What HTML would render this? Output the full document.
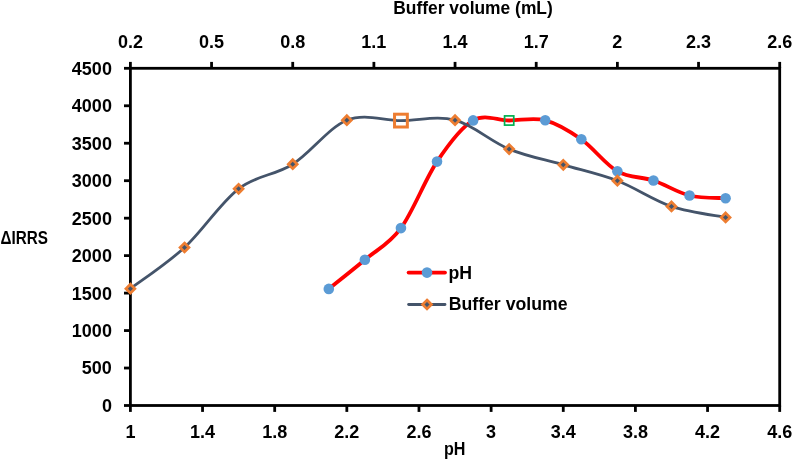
<!DOCTYPE html>
<html><head><meta charset="utf-8"><style>
html,body{margin:0;padding:0;background:#fff;}
svg{display:block;will-change:transform;}
text{font-family:'Liberation Sans',sans-serif;font-weight:bold;font-size:18px;fill:#000;}
</style></head><body>
<svg width="792" height="459" viewBox="0 0 792 459">
<rect width="792" height="459" fill="#fff"/>

<g stroke="#000" stroke-width="2.8" fill="none">
<rect x="130.4" y="68.3" width="649.30" height="337.20"/>
<line x1="124.00" y1="405.50" x2="130.4" y2="405.50"/>
<line x1="124.00" y1="368.03" x2="130.4" y2="368.03"/>
<line x1="124.00" y1="330.57" x2="130.4" y2="330.57"/>
<line x1="124.00" y1="293.10" x2="130.4" y2="293.10"/>
<line x1="124.00" y1="255.63" x2="130.4" y2="255.63"/>
<line x1="124.00" y1="218.17" x2="130.4" y2="218.17"/>
<line x1="124.00" y1="180.70" x2="130.4" y2="180.70"/>
<line x1="124.00" y1="143.23" x2="130.4" y2="143.23"/>
<line x1="124.00" y1="105.77" x2="130.4" y2="105.77"/>
<line x1="124.00" y1="68.30" x2="130.4" y2="68.30"/>
<line x1="130.40" y1="405.5" x2="130.40" y2="411.90"/>
<line x1="202.54" y1="405.5" x2="202.54" y2="411.90"/>
<line x1="274.69" y1="405.5" x2="274.69" y2="411.90"/>
<line x1="346.83" y1="405.5" x2="346.83" y2="411.90"/>
<line x1="418.98" y1="405.5" x2="418.98" y2="411.90"/>
<line x1="491.12" y1="405.5" x2="491.12" y2="411.90"/>
<line x1="563.27" y1="405.5" x2="563.27" y2="411.90"/>
<line x1="635.41" y1="405.5" x2="635.41" y2="411.90"/>
<line x1="707.56" y1="405.5" x2="707.56" y2="411.90"/>
<line x1="779.70" y1="405.5" x2="779.70" y2="411.90"/>
<line x1="130.40" y1="61.90" x2="130.40" y2="68.3"/>
<line x1="211.56" y1="61.90" x2="211.56" y2="68.3"/>
<line x1="292.73" y1="61.90" x2="292.73" y2="68.3"/>
<line x1="373.89" y1="61.90" x2="373.89" y2="68.3"/>
<line x1="455.05" y1="61.90" x2="455.05" y2="68.3"/>
<line x1="536.21" y1="61.90" x2="536.21" y2="68.3"/>
<line x1="617.38" y1="61.90" x2="617.38" y2="68.3"/>
<line x1="698.54" y1="61.90" x2="698.54" y2="68.3"/>
<line x1="779.70" y1="61.90" x2="779.70" y2="68.3"/>
</g>
<text x="111.9" y="411.90" text-anchor="end">0</text>
<text x="111.9" y="374.43" text-anchor="end">500</text>
<text x="111.9" y="336.97" text-anchor="end">1000</text>
<text x="111.9" y="299.50" text-anchor="end">1500</text>
<text x="111.9" y="262.03" text-anchor="end">2000</text>
<text x="111.9" y="224.57" text-anchor="end">2500</text>
<text x="111.9" y="187.10" text-anchor="end">3000</text>
<text x="111.9" y="149.63" text-anchor="end">3500</text>
<text x="111.9" y="112.17" text-anchor="end">4000</text>
<text x="111.9" y="74.70" text-anchor="end">4500</text>
<text x="130.40" y="437.7" text-anchor="middle">1</text>
<text x="202.54" y="437.7" text-anchor="middle">1.4</text>
<text x="274.69" y="437.7" text-anchor="middle">1.8</text>
<text x="346.83" y="437.7" text-anchor="middle">2.2</text>
<text x="418.98" y="437.7" text-anchor="middle">2.6</text>
<text x="491.12" y="437.7" text-anchor="middle">3</text>
<text x="563.27" y="437.7" text-anchor="middle">3.4</text>
<text x="635.41" y="437.7" text-anchor="middle">3.8</text>
<text x="707.56" y="437.7" text-anchor="middle">4.2</text>
<text x="779.70" y="437.7" text-anchor="middle">4.6</text>
<text x="130.40" y="47.7" text-anchor="middle">0.2</text>
<text x="211.56" y="47.7" text-anchor="middle">0.5</text>
<text x="292.73" y="47.7" text-anchor="middle">0.8</text>
<text x="373.89" y="47.7" text-anchor="middle">1.1</text>
<text x="455.05" y="47.7" text-anchor="middle">1.4</text>
<text x="536.21" y="47.7" text-anchor="middle">1.7</text>
<text x="617.38" y="47.7" text-anchor="middle">2</text>
<text x="698.54" y="47.7" text-anchor="middle">2.3</text>
<text x="779.70" y="47.7" text-anchor="middle">2.6</text>
<text x="393.3" y="13.6" textLength="159.5" lengthAdjust="spacingAndGlyphs">Buffer volume (mL)</text>
<text x="444" y="455" textLength="21.5" lengthAdjust="spacingAndGlyphs">pH</text>
<text x="0.5" y="244" textLength="47.5" lengthAdjust="spacingAndGlyphs">ΔIRRS</text>
<path d="M328.80,288.90 C334.81,284.05 352.85,269.93 364.87,259.80 C376.89,249.67 388.92,244.47 400.94,228.10 C412.97,211.73 424.99,179.55 437.01,161.60 C449.04,143.65 461.06,127.25 473.09,120.40 C485.11,113.55 497.13,120.52 509.16,120.50 C521.18,120.48 533.21,117.17 545.23,120.30 C557.25,123.43 569.28,130.80 581.30,139.30 C593.33,147.80 605.35,164.43 617.38,171.30 C629.40,178.17 641.42,176.47 653.45,180.50 C665.47,184.53 677.50,192.55 689.52,195.50 C701.54,198.45 719.58,197.75 725.59,198.20" fill="none" stroke="#FF0000" stroke-width="3.8" stroke-linecap="round" stroke-linejoin="round"/>
<circle cx="328.80" cy="288.90" r="5.3" fill="#5B9BD5"/>
<circle cx="364.87" cy="259.80" r="5.3" fill="#5B9BD5"/>
<circle cx="400.94" cy="228.10" r="5.3" fill="#5B9BD5"/>
<circle cx="437.01" cy="161.60" r="5.3" fill="#5B9BD5"/>
<circle cx="473.09" cy="120.40" r="5.3" fill="#5B9BD5"/>
<rect x="504.56" y="115.90" width="9.2" height="9.2" fill="none" stroke="#00B050" stroke-width="1.7"/>
<circle cx="545.23" cy="120.30" r="5.3" fill="#5B9BD5"/>
<circle cx="581.30" cy="139.30" r="5.3" fill="#5B9BD5"/>
<circle cx="617.38" cy="171.30" r="5.3" fill="#5B9BD5"/>
<circle cx="653.45" cy="180.50" r="5.3" fill="#5B9BD5"/>
<circle cx="689.52" cy="195.50" r="5.3" fill="#5B9BD5"/>
<circle cx="725.59" cy="198.20" r="5.3" fill="#5B9BD5"/>
<path d="M130.40,288.70 C139.42,281.83 166.47,264.15 184.51,247.50 C202.54,230.85 220.58,202.68 238.62,188.80 C256.65,174.92 274.69,175.63 292.73,164.20 C310.76,152.77 328.80,127.47 346.83,120.20 C364.87,112.93 382.91,120.60 400.94,120.60 C418.98,120.60 437.01,115.45 455.05,120.20 C473.09,124.95 491.12,141.67 509.16,149.10 C527.19,156.53 545.23,159.53 563.27,164.80 C581.30,170.07 599.34,173.77 617.38,180.70 C635.41,187.63 653.45,200.28 671.48,206.40 C689.52,212.52 716.57,215.57 725.59,217.40" fill="none" stroke="#44546A" stroke-width="2.8" stroke-linecap="round" stroke-linejoin="round"/>
<path d="M130.40,284.25 L134.85,288.70 L130.40,293.15 L125.95,288.70 Z" fill="#44546A" stroke="#ED7D31" stroke-width="2.7" stroke-linejoin="miter"/>
<path d="M184.51,243.05 L188.96,247.50 L184.51,251.95 L180.06,247.50 Z" fill="#44546A" stroke="#ED7D31" stroke-width="2.7" stroke-linejoin="miter"/>
<path d="M238.62,184.35 L243.07,188.80 L238.62,193.25 L234.17,188.80 Z" fill="#44546A" stroke="#ED7D31" stroke-width="2.7" stroke-linejoin="miter"/>
<path d="M292.73,159.75 L297.18,164.20 L292.73,168.65 L288.28,164.20 Z" fill="#44546A" stroke="#ED7D31" stroke-width="2.7" stroke-linejoin="miter"/>
<path d="M346.83,115.75 L351.28,120.20 L346.83,124.65 L342.38,120.20 Z" fill="#44546A" stroke="#ED7D31" stroke-width="2.7" stroke-linejoin="miter"/>
<rect x="394.54" y="114.20" width="12.8" height="12.8" fill="none" stroke="#ED7D31" stroke-width="3"/>
<path d="M455.05,115.75 L459.50,120.20 L455.05,124.65 L450.60,120.20 Z" fill="#44546A" stroke="#ED7D31" stroke-width="2.7" stroke-linejoin="miter"/>
<path d="M509.16,144.65 L513.61,149.10 L509.16,153.55 L504.71,149.10 Z" fill="#44546A" stroke="#ED7D31" stroke-width="2.7" stroke-linejoin="miter"/>
<path d="M563.27,160.35 L567.72,164.80 L563.27,169.25 L558.82,164.80 Z" fill="#44546A" stroke="#ED7D31" stroke-width="2.7" stroke-linejoin="miter"/>
<path d="M617.38,176.25 L621.83,180.70 L617.38,185.15 L612.93,180.70 Z" fill="#44546A" stroke="#ED7D31" stroke-width="2.7" stroke-linejoin="miter"/>
<path d="M671.48,201.95 L675.93,206.40 L671.48,210.85 L667.03,206.40 Z" fill="#44546A" stroke="#ED7D31" stroke-width="2.7" stroke-linejoin="miter"/>
<path d="M725.59,212.95 L730.04,217.40 L725.59,221.85 L721.14,217.40 Z" fill="#44546A" stroke="#ED7D31" stroke-width="2.7" stroke-linejoin="miter"/>
<line x1="408.6" y1="272.6" x2="445" y2="272.6" stroke="#FF0000" stroke-width="3.8" stroke-linecap="round"/>
<circle cx="427" cy="272.6" r="5.3" fill="#5B9BD5"/>
<line x1="408.6" y1="304.5" x2="445" y2="304.5" stroke="#44546A" stroke-width="2.8" stroke-linecap="round"/>
<path d="M427.00,300.05 L431.45,304.50 L427.00,308.95 L422.55,304.50 Z" fill="#44546A" stroke="#ED7D31" stroke-width="2.7" stroke-linejoin="miter"/>
<text x="448.4" y="278.9" textLength="23.6" lengthAdjust="spacingAndGlyphs">pH</text>
<text x="448.7" y="310.1" textLength="118.9" lengthAdjust="spacingAndGlyphs">Buffer volume</text>
</svg>
</body></html>
